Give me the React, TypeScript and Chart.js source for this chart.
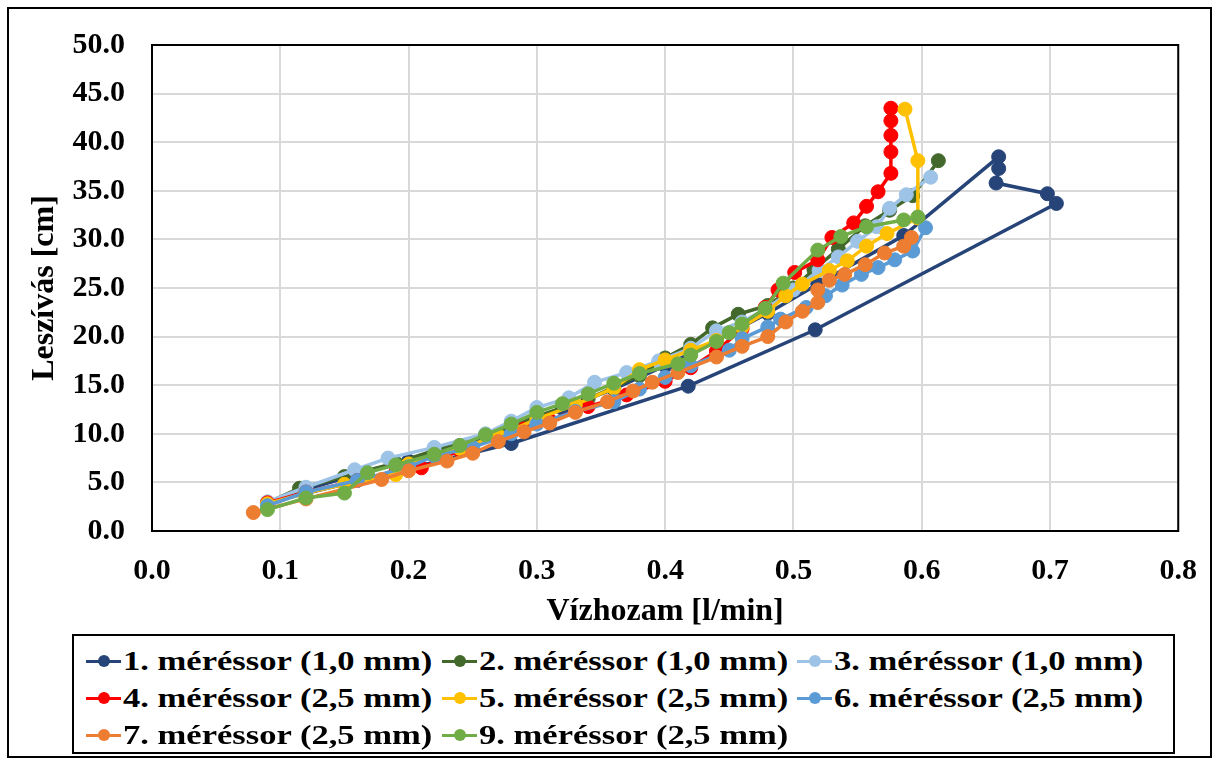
import React, { useEffect, useRef } from "react";
import { Chart, registerables } from "chart.js";

Chart.register(...registerables);

const W = 1219;
const H = 764;

const seriesNames = [
  "1. méréssor (1,0 mm)",
  "2. méréssor (1,0 mm)",
  "3. méréssor (1,0 mm)",
  "4. méréssor (2,5 mm)",
  "5. méréssor (2,5 mm)",
  "6. méréssor (2,5 mm)",
  "7. méréssor (2,5 mm)",
  "9. méréssor (2,5 mm)",
];

const seriesColors = [
  "#264478",
  "#43682B",
  "#9DC3E6",
  "#FF0000",
  "#FFC000",
  "#5B9BD5",
  "#ED7D31",
  "#70AD47",
];

type P = [number, number];

const s1: P[] = [
  [0.09, 2.9], [0.28, 9.0], [0.418, 14.9], [0.517, 20.7], [0.705, 33.7], [0.698, 34.7],
  [0.658, 35.8], [0.66, 37.3], [0.66, 38.5], [0.586, 30.4], [0.519, 25.4], [0.48, 22.4],
  [0.44, 19.6], [0.4, 17.0], [0.36, 14.6], [0.32, 12.6], [0.28, 10.6], [0.24, 8.8],
  [0.2, 7.2], [0.16, 5.8], [0.12, 4.3], [0.09, 2.9],
];

const s2: P[] = [
  [0.09, 2.9], [0.115, 4.4], [0.15, 5.6], [0.19, 7.0], [0.22, 8.3], [0.26, 9.8],
  [0.3, 11.8], [0.34, 13.6], [0.38, 16.0], [0.4, 17.8], [0.42, 19.2], [0.437, 20.9],
  [0.457, 22.3], [0.48, 23.2], [0.5, 25.0], [0.516, 26.9], [0.535, 29.0], [0.556, 31.4],
  [0.575, 33.0], [0.593, 34.5], [0.613, 38.1],
];

const s3: P[] = [
  [0.09, 3.0], [0.12, 4.5], [0.158, 6.3], [0.184, 7.5], [0.22, 8.6], [0.26, 10.0],
  [0.28, 11.3], [0.3, 12.7], [0.325, 13.7], [0.345, 15.3], [0.37, 16.3], [0.395, 17.5],
  [0.42, 18.8], [0.44, 20.6], [0.46, 21.5], [0.48, 23.0], [0.5, 24.8], [0.52, 26.8],
  [0.535, 28.2], [0.55, 29.8], [0.565, 31.3], [0.575, 33.2], [0.588, 34.6], [0.607, 36.4],
];

const s4: P[] = [
  [0.09, 2.9], [0.12, 4.0], [0.16, 5.2], [0.19, 6.0], [0.21, 6.5], [0.24, 8.3],
  [0.27, 9.6], [0.29, 10.5], [0.31, 11.4], [0.34, 12.8], [0.37, 14.0], [0.4, 15.4],
  [0.42, 16.8], [0.44, 18.5], [0.46, 20.8], [0.478, 23.0], [0.488, 24.8], [0.501, 26.6],
  [0.519, 27.9], [0.53, 30.2], [0.547, 31.7], [0.557, 33.4], [0.566, 34.9], [0.576, 36.8],
  [0.576, 39.0], [0.576, 40.7], [0.576, 42.2], [0.576, 43.5],
];

const s5: P[] = [
  [0.09, 2.8], [0.12, 3.9], [0.15, 4.8], [0.19, 5.8], [0.2, 6.9], [0.24, 8.5],
  [0.27, 9.8], [0.3, 11.5], [0.33, 13.0], [0.36, 14.7], [0.38, 16.6], [0.4, 17.6],
  [0.42, 18.6], [0.44, 19.6], [0.46, 21.0], [0.48, 22.6], [0.494, 24.2], [0.507, 25.4],
  [0.528, 26.8], [0.542, 27.8], [0.557, 29.3], [0.573, 30.6], [0.597, 32.2], [0.597, 38.1],
  [0.587, 43.4],
];

const s6: P[] = [
  [0.09, 2.6], [0.12, 4.0], [0.16, 5.2], [0.2, 6.6], [0.22, 7.7], [0.25, 8.6],
  [0.28, 10.0], [0.3, 11.0], [0.33, 12.3], [0.36, 13.3], [0.38, 14.6], [0.4, 15.8],
  [0.42, 17.0], [0.45, 18.6], [0.46, 19.8], [0.48, 21.0], [0.49, 21.8], [0.51, 23.0],
  [0.525, 24.2], [0.538, 25.3], [0.553, 26.4], [0.566, 27.1], [0.579, 27.9], [0.593, 28.8],
  [0.603, 31.2],
];

const s7: P[] = [
  [0.079, 1.9], [0.12, 3.3], [0.179, 5.3], [0.2, 6.2], [0.23, 7.2], [0.25, 8.0],
  [0.27, 9.2], [0.29, 10.2], [0.31, 11.1], [0.33, 12.2], [0.355, 13.3], [0.375, 14.4],
  [0.39, 15.3], [0.41, 16.3], [0.44, 17.9], [0.46, 19.0], [0.48, 20.0], [0.494, 21.5],
  [0.507, 22.6], [0.519, 23.5], [0.519, 24.8], [0.528, 25.8], [0.54, 26.4], [0.556, 27.4],
  [0.571, 28.6], [0.586, 29.3], [0.592, 30.2],
];

const s9: P[] = [
  [0.09, 2.2], [0.12, 3.4], [0.15, 3.9], [0.168, 6.0], [0.19, 6.8], [0.22, 7.9],
  [0.24, 8.8], [0.26, 9.9], [0.28, 11.0], [0.3, 12.2], [0.32, 13.1], [0.34, 14.1],
  [0.36, 15.2], [0.38, 16.2], [0.41, 17.2], [0.42, 18.1], [0.44, 19.5], [0.45, 20.4],
  [0.46, 21.3], [0.478, 22.9], [0.492, 25.5], [0.519, 28.9], [0.537, 30.3], [0.557, 31.3],
  [0.586, 32.0], [0.597, 32.3],
];

const allSeries: P[][] = [s1, s2, s3, s4, s5, s6, s7, s9];

const xTitle = "Vízhozam [l/min]";
const yTitle = "Leszívás [cm]";
const xMin = 0, xMax = 0.8, xStep = 0.1;
const yMin = 0, yMax = 50, yStep = 5;

const FONT = "'Liberation Serif', 'Times New Roman', serif";

const plotBox = {
  id: "plotBox",
  beforeDatasetsDraw(chart: any) {
    const { ctx, chartArea } = chart;
    ctx.save();
    ctx.strokeStyle = "#000";
    ctx.lineWidth = 2;
    ctx.strokeRect(chartArea.left, chartArea.top, chartArea.right - chartArea.left, chartArea.bottom - chartArea.top);
    ctx.restore();
  },
};

const legendCols = [86, 442, 797];
const legendRows = [661, 698, 735];

export default function App() {
  const ref = useRef<HTMLCanvasElement | null>(null);

  useEffect(() => {
    if (!ref.current) return;
    const n = allSeries.length;
    const chart = new Chart(ref.current, {
      type: "line",
      data: {
        datasets: allSeries.map((s, i) => ({
          label: seriesNames[i],
          data: s.map(([x, y]) => ({ x, y })),
          borderColor: seriesColors[i],
          backgroundColor: seriesColors[i],
          pointBackgroundColor: seriesColors[i],
          pointBorderColor: seriesColors[i],
          borderWidth: 3.5,
          pointRadius: 7,
          pointBorderWidth: 1,
          tension: 0,
          fill: false,
          order: n - i,
        })),
      },
      options: {
        responsive: false,
        animation: false,
        devicePixelRatio: 1,
        layout: { padding: { left: 0, top: 37, right: 29, bottom: 133 } },
        plugins: {
          legend: { display: false },
          tooltip: { enabled: false },
        },
        scales: {
          x: {
            type: "linear",
            min: xMin,
            max: xMax,
            afterFit: (s: any) => { s.height = 100; },
            ticks: {
              stepSize: xStep,
              callback: (v: any) => Number(v).toFixed(1),
              font: { family: FONT, size: 30, weight: "bold" },
              color: "#000",
              padding: 22,
              maxRotation: 0,
            },
            grid: { color: "#D9D9D9", lineWidth: 2, drawTicks: false },
            border: { display: true, color: "#000", width: 2 },
            title: {
              display: true,
              text: xTitle,
              font: { family: FONT, size: 32, weight: "bold" },
              color: "#000",
              padding: { top: 0, bottom: 0 },
            },
          },
          y: {
            type: "linear",
            min: yMin,
            max: yMax,
            afterFit: (s: any) => { s.width = 152; },
            ticks: {
              stepSize: yStep,
              callback: (v: any) => Number(v).toFixed(1),
              font: { family: FONT, size: 30, weight: "bold" },
              color: "#000",
              padding: 27,
            },
            grid: { color: "#D9D9D9", lineWidth: 2, drawTicks: false },
            border: { display: true, color: "#000", width: 2 },
            title: {
              display: true,
              text: yTitle,
              font: { family: FONT, size: 32, weight: "bold" },
              color: "#000",
              padding: { top: 26, bottom: 0 },
            },
          },
        },
      },
      plugins: [plotBox],
    });
    return () => chart.destroy();
  }, []);

  return (
    <div style={{ position: "fixed", left: 0, top: 0, width: W, height: H, background: "#fff" }}>
      <canvas ref={ref} width={W} height={H} style={{ position: "absolute", left: 0, top: 0, width: W, height: H }} />
      <div
        style={{
          position: "absolute", left: 7, top: 7, width: 1205, height: 751,
          border: "2px solid #000", boxSizing: "border-box", pointerEvents: "none",
        }}
      />
      <div
        style={{
          position: "absolute", left: 72, top: 634, width: 1103, height: 120,
          border: "2px solid #000", boxSizing: "border-box", background: "#fff",
        }}
      />
      {seriesNames.map((name, i) => {
        const cx = legendCols[i % 3];
        const cy = legendRows[Math.floor(i / 3)];
        return (
          <div key={i} style={{ position: "absolute", left: cx, top: cy - 20, height: 40, display: "flex", alignItems: "center" }}>
            <div style={{ position: "relative", width: 35, height: 40, flex: "none" }}>
              <div style={{ position: "absolute", left: 0, top: 18.5, width: 35, height: 3.5, background: seriesColors[i] }} />
              <div style={{ position: "absolute", left: 11.5, top: 14, width: 12, height: 12, borderRadius: 6, background: seriesColors[i] }} />
            </div>
            <div style={{
              marginLeft: 2, fontFamily: FONT, fontWeight: "bold", fontSize: 27, color: "#000",
              whiteSpace: "nowrap", transform: "scaleX(1.28)", transformOrigin: "left center", lineHeight: "40px",
            }}>{name}</div>
          </div>
        );
      })}
    </div>
  );
}
